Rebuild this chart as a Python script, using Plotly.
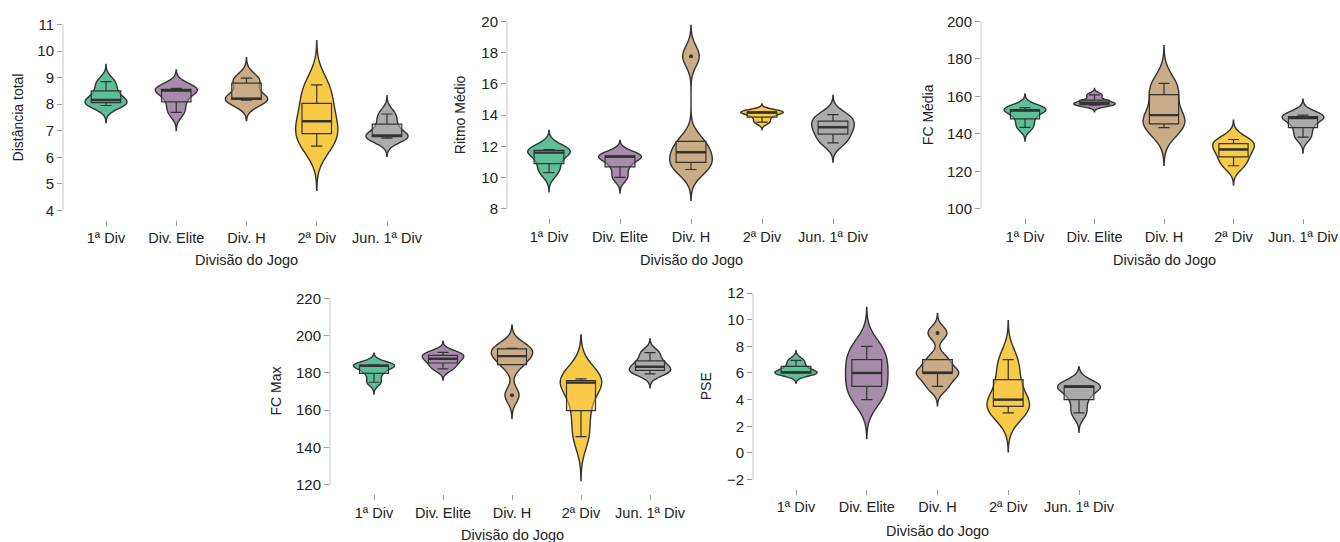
import numpy as np
import plotly.graph_objects as go

# ---------------- data ----------------
categories = ["1ª Div", "Div. Elite", "Div. H", "2ª Div", "Jun. 1ª Div"]

distancia_total = [
    [7.95, 8.06, 8.16, 8.50, 8.85],
    [7.69, 8.09, 8.51, 8.56, 8.60],
    [8.15, 8.18, 8.21, 8.79, 8.98],
    [6.42, 6.89, 7.36, 8.03, 8.73],
    [6.72, 6.78, 6.82, 7.25, 7.63],
]
ritmo_medio = [
    [10.32, 10.90, 11.60, 11.74, 11.80],
    [10.01, 10.69, 11.35, 11.37, 11.39],
    [10.52, 10.97, 11.62, 12.32, 17.78],
    [13.55, 13.87, 14.18, 14.20, 14.23],
    [12.23, 12.78, 13.23, 13.62, 14.03],
]
fc_media = [
    [143.5, 148.0, 152.5, 153.0, 154.0],
    [155.3, 155.6, 156.6, 158.0, 160.8],
    [143.3, 145.3, 150.0, 161.0, 167.0],
    [123.0, 127.7, 131.7, 134.8, 137.0],
    [138.3, 143.4, 148.5, 149.2, 150.0],
]
fc_max = [
    [175.0, 179.7, 183.8, 184.0, 184.3],
    [182.2, 185.3, 187.6, 189.4, 191.0],
    [168.0, 184.4, 189.0, 192.9, 193.1],
    [145.8, 159.8, 174.8, 175.9, 176.8],
    [179.5, 181.3, 183.3, 186.4, 190.9],
]
pse = [
    [5.98, 6.00, 6.05, 6.50, 6.95],
    [4.0, 5.0, 6.0, 7.0, 8.0],
    [5.0, 6.0, 6.0, 7.0, 9.0],
    [3.0, 3.5, 4.0, 5.5, 7.0],
    [3.0, 4.0, 5.0, 5.0, 5.0],
]

y_titles = ["Distância total", "Ritmo Médio", "FC Média", "FC Max", "PSE"]
x_title = "Divisão do Jogo"
y_ticks = [
    list(range(4, 12, 1)),
    list(range(8, 21, 2)),
    list(range(100, 201, 20)),
    list(range(120, 221, 20)),
    list(range(-2, 13, 2)),
]

# ---------------- styles ----------------
colors = ["#5CBF98", "#A68DAA", "#C9AC86", "#F8CB47", "#ABABAB"]
box_fill = ["rgba(92,191,152,0.55)", "rgba(166,141,170,0.55)", "rgba(201,172,134,0.55)",
            "rgba(248,203,71,0.55)", "rgba(171,171,171,0.55)"]
edge = "#333333"
FONT = "Arial, 'Liberation Sans', sans-serif"
TXT = "#222222"
W, H = 1340, 542
BOX_W = 0.42

# pixel geometry of each panel: y-pixel of top/bottom tick, axis-line x, first category x, spacing, right edge
geom = [
    dict(ytop=19.7, ybot=207.3, xl=63, c0=106, step=70.25, xr=430, ytx=18, xty=257),
    dict(ytop=16.7, ybot=205.7, xl=507, c0=549, step=71.0, xr=875, ytx=460, xty=257),
    dict(ytop=16.7, ybot=205.7, xl=981, c0=1025, step=69.5, xr=1340, ytx=928, xty=257),
    dict(ytop=296.0, ybot=484.3, xl=330, c0=374, step=69.0, xr=694, ytx=276, xty=535),
    dict(ytop=290.7, ybot=479.0, xl=753, c0=796, step=70.75, xr=1122, ytx=706, xty=531),
]
datasets = [distancia_total, ritmo_medio, fc_media, fc_max, pse]


def bw_nrd0(v):
    v = np.asarray(v, float)
    sd = v.std(ddof=1)
    iqr = np.percentile(v, 75) - np.percentile(v, 25)
    lo = min(sd, iqr / 1.34)
    if lo <= 0:
        lo = sd if sd > 0 else (abs(v[0]) if v[0] != 0 else 1.0)
    return 0.9 * lo * len(v) ** (-0.2)


fig = go.Figure()
layout = dict(
    width=W, height=H, margin=dict(l=0, r=0, t=0, b=0),
    paper_bgcolor="white", plot_bgcolor="white", showlegend=False,
    violinmode="overlay", boxmode="overlay",
    font=dict(family=FONT, size=14, color=TXT),
)
annotations = []
shapes = []

for k, (data, g, ticks, ytitle) in enumerate(zip(datasets, geom, y_ticks, y_titles)):
    sfx = "" if k == 0 else str(k + 1)
    xa, ya = "x" + sfx, "y" + sfx
    ymin, ymax = ticks[0], ticks[-1]
    u = (ymax - ymin) / (g["ybot"] - g["ytop"])
    bottom_px = g["ybot"] + 9.5
    top_px = g["ytop"] - 4
    yrange = [ymin - 9.5 * u, ymax + 4 * u]
    xrange = [(g["xl"] - g["c0"]) / g["step"], (g["xr"] - g["c0"]) / g["step"]]

    for i, vals in enumerate(data):
        bw = bw_nrd0(vals)
        fig.add_trace(go.Violin(
            y=vals, x0=i, xaxis=xa, yaxis=ya, width=0.6, scalemode="width",
            bandwidth=bw, spanmode="manual", span=[min(vals) - 3 * bw, max(vals) + 3 * bw],
            fillcolor=colors[i], line=dict(color=edge, width=1.4), opacity=1,
            points=False, box_visible=False, meanline_visible=False, hoverinfo="skip",
        ))
        fig.add_trace(go.Box(
            y=vals, x0=i, xaxis=xa, yaxis=ya, width=BOX_W, whiskerwidth=0.38,
            quartilemethod="inclusive", boxpoints="outliers", pointpos=0, jitter=0,
            fillcolor=box_fill[i], line=dict(color=edge, width=1.2),
            marker=dict(color=edge, size=4), hoverinfo="skip",
        ))
        med = float(np.median(vals))
        fig.add_trace(go.Scatter(
            x=[i - BOX_W / 2, i + BOX_W / 2], y=[med, med], xaxis=xa, yaxis=ya,
            mode="lines", line=dict(color=edge, width=2.4), hoverinfo="skip",
        ))

    layout["xaxis" + sfx] = dict(
        domain=[g["xl"] / W, g["xr"] / W], anchor=ya, range=xrange,
        tickmode="array", tickvals=list(range(len(categories))), ticktext=categories,
        ticks="outside", ticklen=5, tickwidth=1, tickcolor="#9a9a9a",
        showline=False, showgrid=False, zeroline=False,
        tickfont=dict(family=FONT, size=14.5, color=TXT),
    )
    layout["yaxis" + sfx] = dict(
        domain=[(H - bottom_px) / H, (H - top_px) / H], anchor=xa, range=yrange,
        tickmode="array", tickvals=ticks, ticks="outside", ticklen=5, tickwidth=1,
        tickcolor="#9a9a9a", showline=False, showgrid=False, zeroline=False,
        tickfont=dict(family=FONT, size=15, color=TXT),
    )
    shapes.append(dict(type="line", xref=xa + " domain", yref=ya, x0=0, x1=0,
                       y0=ymin, y1=ymax, line=dict(color="#c8c8c8", width=1)))
    annotations.append(dict(text=x_title, xref=xa, yref="paper", x=2, y=(H - g["xty"]) / H,
                            showarrow=False, xanchor="center", yanchor="middle",
                            font=dict(family=FONT, size=14.5, color=TXT)))
    annotations.append(dict(text=ytitle, xref="paper", yref=ya, x=g["ytx"] / W,
                            y=(ymin + ymax) / 2, textangle=-90, showarrow=False,
                            xanchor="center", yanchor="middle",
                            font=dict(family=FONT, size=14, color=TXT)))

layout["annotations"] = annotations
layout["shapes"] = shapes
fig.update_layout(**layout)
fig.write_html("out.html", config={"displayModeBar": False},
               post_script="document.body.style.margin='0px';document.body.style.overflow='hidden';")
